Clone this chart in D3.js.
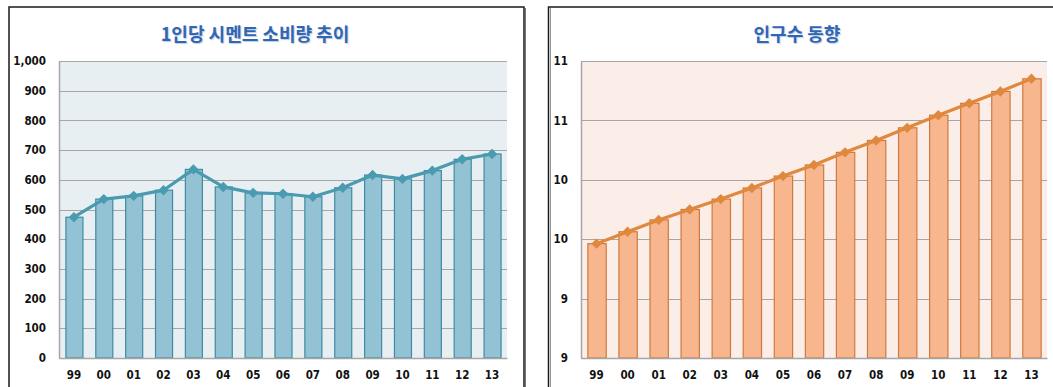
<!DOCTYPE html>
<html><head><meta charset="utf-8">
<script src="https://cdn.jsdelivr.net/npm/d3@7/dist/d3.min.js"></script>
<style>
body{margin:0;background:#fff;}
svg{display:block;}
.tick text{font-family:'DejaVu Sans Condensed','DejaVu Sans',sans-serif;font-weight:bold;font-size:11.5px;fill:#111;}
</style></head>
<body><svg id="c" width="1053" height="387"></svg>
<script>
const years = ["99","00","01","02","03","04","05","06","07","08","09","10","11","12","13"];
const cementPerCapita = [474,535,546,565,635,576,556,553,543,573,616,603,631,669,687];
const population = [9.77,9.85,9.93,10.00,10.07,10.145,10.225,10.30,10.385,10.465,10.55,10.635,10.715,10.795,10.88];
const leftTicks = [0,100,200,300,400,500,600,700,800,900,1000];
const rightTicks = [9,9.4,9.8,10.2,10.6,11];
const leftTitle = "1인당 시멘트 소비량 추이";
const rightTitle = "인구수 동향";

const svg = d3.select("#c");

// panels
svg.append("rect").attr("x",9).attr("y",7).attr("width",515).attr("height",420)
  .attr("fill","#fff").attr("stroke","#1a1a1a").attr("stroke-width",1.5);
svg.append("line").attr("x1",525.5).attr("x2",525.5).attr("y1",8).attr("y2",387).attr("stroke","#777").attr("stroke-width",1);
svg.append("rect").attr("x",548.5).attr("y",7).attr("width",560).attr("height",420)
  .attr("fill","#fff").attr("stroke","#1a1a1a").attr("stroke-width",1.5);
svg.append("line").attr("x1",550.5).attr("x2",550.5).attr("y1",8).attr("y2",387).attr("stroke","#999").attr("stroke-width",1);

function drawChart(cfg){
  const g = svg.append("g");
  const x = d3.scaleBand().domain(years).range([cfg.x0,cfg.x1]).paddingInner(cfg.pad).paddingOuter(cfg.pad/2);
  const y = d3.scaleLinear().domain(cfg.domain).range([cfg.y1,cfg.y0]);
  g.append("rect").attr("x",cfg.x0).attr("y",cfg.y0).attr("width",cfg.x1-cfg.x0).attr("height",cfg.y1-cfg.y0).attr("fill",cfg.bg);
  // grid
  g.selectAll(".grid").data(cfg.ticks).join("line")
    .attr("x1",cfg.x0).attr("x2",cfg.x1)
    .attr("y1",d=>Math.round(y(d))+0.5).attr("y2",d=>Math.round(y(d))+0.5)
    .attr("stroke","#a6a6a6").attr("stroke-width",1.2);
  // y axis
  const ya = g.append("g").attr("transform",`translate(${cfg.x0},0)`)
    .call(d3.axisLeft(y).tickValues(cfg.ticks).tickFormat(cfg.fmt).tickSize(0).tickPadding(cfg.labelPad));
  ya.select(".domain").attr("stroke","#a6a6a6").attr("stroke-width",1.5);
  // bars
  g.selectAll(".bar").data(cfg.values).join("rect")
    .attr("x",(d,i)=>x(years[i])+0.5).attr("width",x.bandwidth())
    .attr("y",d=>y(d)).attr("height",d=>cfg.y1-y(d))
    .attr("fill",cfg.barFill).attr("stroke",cfg.barStroke).attr("stroke-width",1.2);
  // x axis
  const xa = g.append("g").attr("transform",`translate(0,${cfg.y1})`)
    .call(d3.axisBottom(x).tickSize(0).tickPadding(13));
  xa.select(".domain").attr("stroke","#a6a6a6").attr("stroke-width",1.5);
  // line
  const line = d3.line().x((d,i)=>x(years[i])+x.bandwidth()/2).y(d=>y(d));
  g.append("path").datum(cfg.values).attr("d",line).attr("fill","none")
    .attr("stroke",cfg.lineColor).attr("stroke-width",3.2).attr("stroke-linejoin","round");
  const r = 5.2;
  g.selectAll(".mk").data(cfg.values).join("path")
    .attr("d",(d,i)=>{const cx=x(years[i])+x.bandwidth()/2, cy=y(d);
      return `M${cx},${cy-r}L${cx+r},${cy}L${cx},${cy+r}L${cx-r},${cy}Z`;})
    .attr("fill",cfg.lineColor);
  // title
  g.append("text").attr("x",cfg.tx).attr("y",41).attr("text-anchor","middle")
    .attr("font-family","'Noto Sans CJK KR',sans-serif").attr("font-weight","bold")
    .attr("font-size","18px").attr("fill",cfg.titleColor)
    .style("text-shadow","1px 1px 1px rgba(120,140,170,0.45)")
    .text(cfg.title);
}

drawChart({x0:59,x1:507,y0:61,y1:358,domain:[0,1000],ticks:leftTicks,fmt:d3.format(","),labelPad:13,
  values:cementPerCapita,pad:0.43,bg:"#e8eff3",barFill:"#92c2d3",barStroke:"#3f8ba1",lineColor:"#4a9ab0",
  title:leftTitle,tx:255,titleColor:"#2f67b8"});
drawChart({x0:581,x1:1047,y0:61,y1:358,domain:[9,11],ticks:rightTicks,fmt:d3.format(".0f"),labelPad:13,
  values:population,pad:0.41,bg:"#fbede8",barFill:"#f8b68f",barStroke:"#cf7a3c",lineColor:"#e0883e",
  title:rightTitle,tx:797,titleColor:"#2f67b8"});
</script></body></html>
